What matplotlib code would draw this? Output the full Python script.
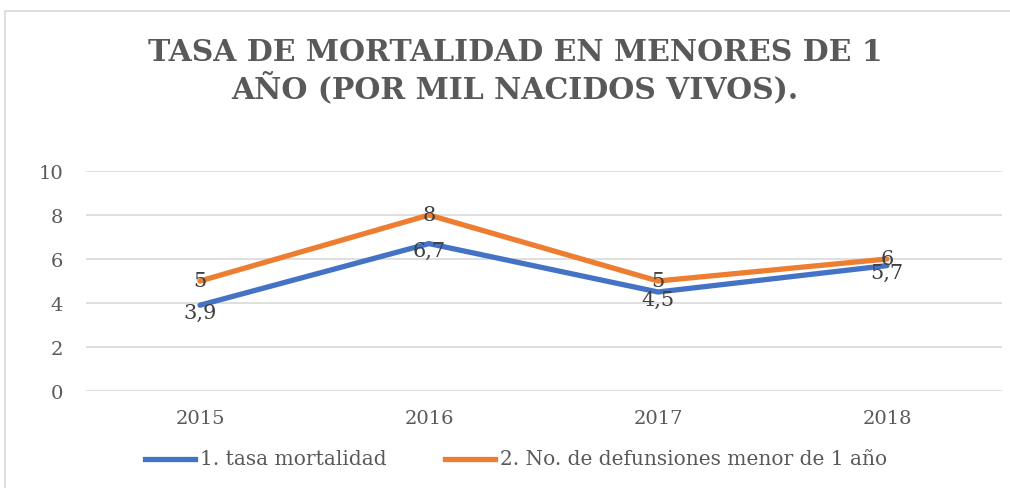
import matplotlib
matplotlib.use("Agg")
import matplotlib.pyplot as plt
from matplotlib.patches import Rectangle

years = ["2015", "2016", "2017", "2018"]
tasa = [3.9, 6.7, 4.5, 5.7]
defunciones = [5, 8, 5, 6]
tasa_labels = ["3,9", "6,7", "4,5", "5,7"]
def_labels = ["5", "8", "5", "6"]

BLUE = "#4472C4"
ORANGE = "#ED7D31"
GRAY = "#595959"
SERIF = ["DejaVu Serif", "Liberation Serif"]

plt.rcParams["font.family"] = SERIF

fig = plt.figure(figsize=(10.1, 4.89), dpi=100)
# chart border (cropped at right/bottom like the screenshot)
fig.patches.append(Rectangle((5 / 1010, -0.1), 1.2, 1 - 12 / 489 + 0.1,
                             transform=fig.transFigure, fill=False,
                             edgecolor="#D9D9D9", lw=1.2))

ax = fig.add_axes([85.5 / 1010, 1 - 392 / 489, 916 / 1010, 220 / 489])
x = range(len(years))
ax.plot(x, tasa, color=BLUE, lw=3.8, solid_capstyle="round", zorder=3)
ax.plot(x, defunciones, color=ORANGE, lw=3.8, solid_capstyle="round", zorder=3)

for i in x:
    ax.annotate(def_labels[i], (i, defunciones[i]), xytext=(0, 0),
                textcoords="offset points", ha="center", va="center",
                fontsize=15, color="#404040", zorder=4)
    ax.annotate(tasa_labels[i], (i, tasa[i]), xytext=(0, -5),
                textcoords="offset points", ha="center", va="center",
                fontsize=15, color="#404040", zorder=4)

ax.set_xlim(-0.5, len(years) - 0.5)
ax.set_ylim(0, 10)
ax.set_yticks(range(0, 11, 2))
ax.set_xticks(list(x))
ax.set_xticklabels(years)
ax.grid(axis="y", color="#D9D9D9", lw=1.2)
ax.set_axisbelow(True)
for s in ax.spines.values():
    s.set_visible(False)
ax.tick_params(length=0, labelsize=14, labelcolor=GRAY)
ax.tick_params(axis="y", pad=16)
ax.tick_params(axis="x", pad=13)

fig.text(515 / 1010, 1 - 71 / 489,
         "TASA DE MORTALIDAD EN MENORES DE 1\nAÑO (POR MIL NACIDOS VIVOS).",
         ha="center", va="center", fontsize=21.5, fontweight="bold",
         color=GRAY, linespacing=1.15)

# legend
ly = 1 - 460 / 489
fig.lines.append(plt.Line2D([145 / 1010, 195 / 1010], [ly, ly], color=BLUE, lw=3.8,
                            transform=fig.transFigure))
fig.text(200 / 1010, ly, "1. tasa mortalidad", ha="left", va="center",
         fontsize=14.5, color=GRAY)
fig.lines.append(plt.Line2D([445 / 1010, 495 / 1010], [ly, ly], color=ORANGE, lw=3.8,
                            transform=fig.transFigure))
fig.text(500 / 1010, ly, "2. No. de defunsiones menor de 1 año", ha="left",
         va="center", fontsize=14.5, color=GRAY)

fig.savefig("out.png", dpi=100)
